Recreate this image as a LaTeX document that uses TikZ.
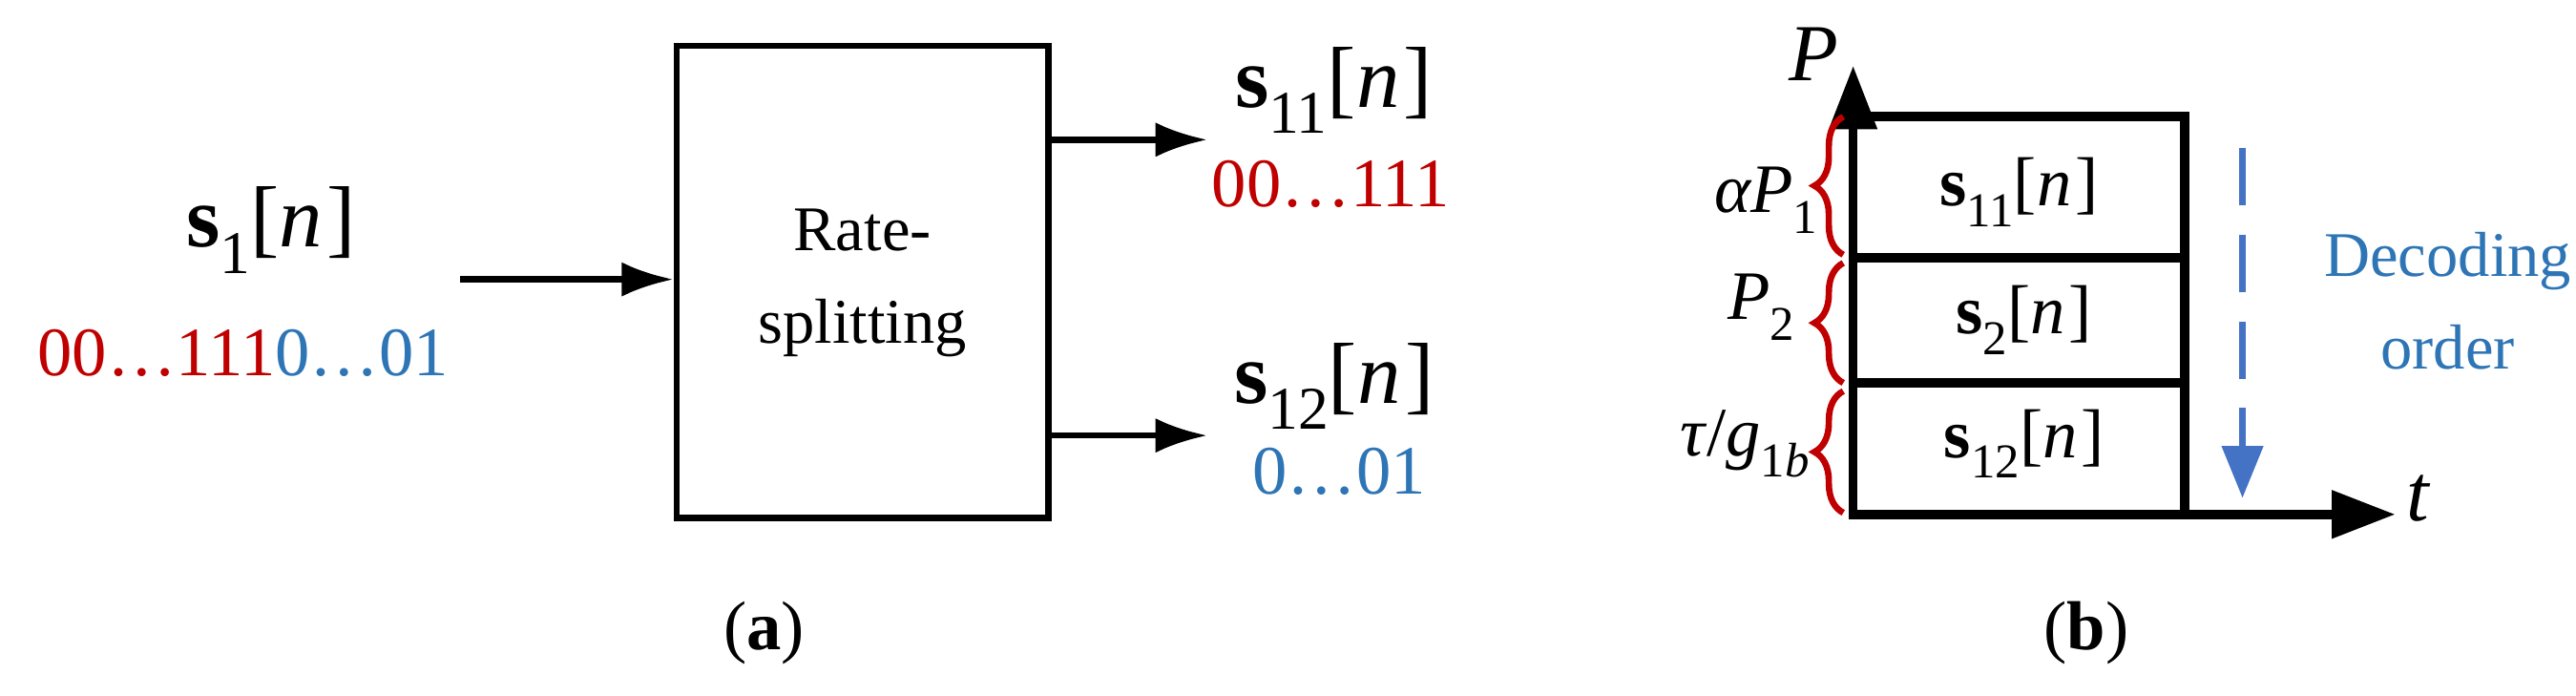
\documentclass[tikz,border=0pt]{standalone}
\usepackage{fontspec}
\setmainfont{Liberation Serif}
\usepackage{graphicx}
\usetikzlibrary{arrows.meta,decorations.pathreplacing}
\definecolor{dred}{RGB}{192,0,0}
\definecolor{dblue}{RGB}{46,117,182}
\definecolor{ablue}{RGB}{68,114,196}
\newcommand\mysig[1]{\textbf{s}\raisebox{-0.3em}{\scalebox{0.7}{#1}}[\textit{n}\kern0.05em]}
\begin{document}
\begin{tikzpicture}[x=0.01cm,y=-0.01cm,
  arr/.style={-{Latex[length=9pt,width=6pt]},line width=1.1pt},
  thick/.style={line width=1.6pt},
  brc/.style={dred,line width=1.1pt,decorate,decoration={brace,amplitude=5pt}},
  lbl/.style={inner sep=0pt}]
\useasboundingbox (0,0) rectangle (1568,423);
% (a)
\node[lbl,font=\fontsize{15}{17}\selectfont] (s1) at (165,140) {\mysig{1}};
\node[lbl,font=\fontsize{12}{14}\selectfont] (b1) at (148,215) {\textcolor{dred}{00…111}\textcolor{dblue}{0…01}};
\node[draw,line width=1.1pt,inner sep=0pt,minimum width=2.26cm,minimum height=2.87cm] (box) at (525,171.5) {};
\node[lbl,align=center,font=\fontsize{11}{14}\selectfont] (rs) at (525,172) {Rate-\\[2pt]splitting};
\coordinate (in) at (280,170);
\draw[arr] (in) -- (box.west |- in);
\coordinate (o1) at (box.east |- 0,85);
\coordinate (o2) at (box.east |- 0,265);
\node[lbl,font=\fontsize{15}{17}\selectfont] (s11) at (812,55) {\mysig{11}};
\node[lbl,font=\fontsize{12}{14}\selectfont,text=dred] (b11) at (810,112) {00…111};
\node[lbl,font=\fontsize{15}{17}\selectfont] (s12) at (812,235) {\mysig{12}};
\node[lbl,font=\fontsize{12}{14}\selectfont,text=dblue] (b12) at (815,287) {0…01};
\coordinate (e1) at (735,85);
\coordinate (e2) at (735,265);
\draw[arr] (o1) -- (e1);
\draw[arr] (o2) -- (e2);
\node[lbl,font=\fontsize{12}{14}\selectfont] (la) at (465,385) {(\textbf{a})};
% (b)
\coordinate (O) at (1128,313);
\coordinate (Ptop) at (1128,40);
\coordinate (tend) at (1458,313);
\draw[thick,-{Triangle[length=11pt,width=8pt]}] (O) -- (Ptop);
\draw[thick,-{Triangle[length=11pt,width=8pt]}] (O) -- (tend);
\node[lbl,font=\fontsize{14}{16}\selectfont\itshape] (P) at (1104,33) {P};
\node[lbl,font=\fontsize{14}{16}\selectfont\itshape] (t) at (1472,303) {t};
\draw[thick] (1128,71) rectangle (1330,313);
\draw[thick] (1128,157) -- (1330,157);
\draw[thick] (1128,233) -- (1330,233);
\node[lbl,font=\fontsize{12}{14}\selectfont] (r1) at (1229,117) {\mysig{11}};
\node[lbl,font=\fontsize{12}{14}\selectfont] (r2) at (1232,195) {\mysig{2}};
\node[lbl,font=\fontsize{12}{14}\selectfont] (r3) at (1232,270) {\mysig{12}};
\draw[brc] (1122,312) -- (1122,238);
\draw[brc] (1122,233) -- (1122,160);
\draw[brc] (1122,155) -- (1122,71);
\node[lbl,font=\fontsize{12}{14}\selectfont] (l1) at (1075,122) {\textit{αP}\raisebox{-0.3em}{\scalebox{0.7}{1}}};
\node[lbl,font=\fontsize{12}{14}\selectfont] (l2) at (1072,187) {\textit{P}\raisebox{-0.3em}{\scalebox{0.7}{2}}};
\node[lbl,font=\fontsize{12}{14}\selectfont] (l3) at (1062,270) {\textit{τ}/\textit{g}\raisebox{-0.3em}{\scalebox{0.7}{1\textit{b}}}};
\coordinate (d1) at (1365,90);
\coordinate (d2) at (1365,303);
\draw[ablue,line width=1.1pt,dash pattern=on 10pt off 5pt,-{Triangle[length=9pt,width=7pt]}] (d1) -- (d2);
\node[lbl,align=center,text=dblue,font=\fontsize{11}{16}\selectfont] (dec) at (1490,183) {Decoding\\order};
\node[lbl,font=\fontsize{12}{14}\selectfont] (lb) at (1270,385) {(\textbf{b})};
\end{tikzpicture}
\end{document}
